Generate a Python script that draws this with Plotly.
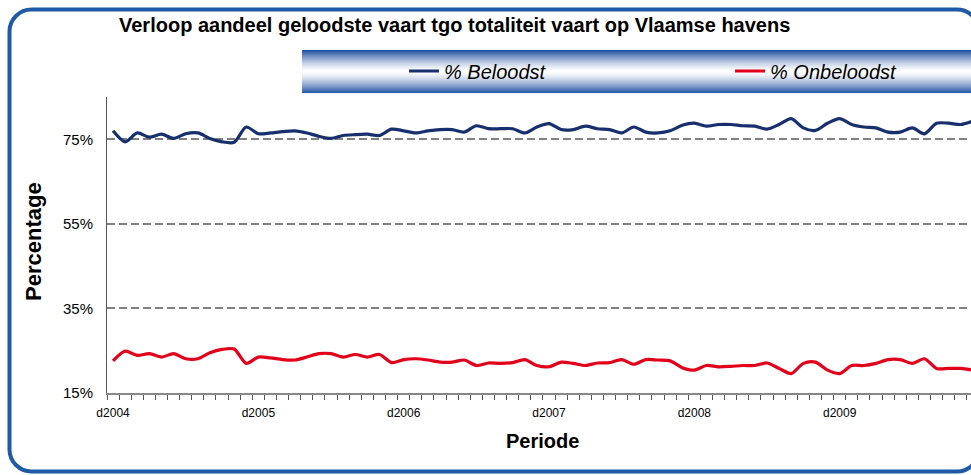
import plotly.graph_objects as go

# ---- data ----
years = [2004, 2005, 2006, 2007, 2008, 2009]
months = [f"{y}-{m:02d}" for y in years for m in range(1, 13)]
tick_labels = [f"d{mo[:4]}" if mo.endswith("-01") else "" for mo in months]

beloodst = [
    77.0, 74.4, 76.5, 75.5, 76.2, 75.2, 76.3, 76.5, 75.2, 74.4, 74.3, 77.9,
    76.3, 76.5, 76.8, 77.0, 76.5, 75.7, 75.2, 75.9, 76.1, 76.2, 75.9, 77.4,
    77.0, 76.5, 77.0, 77.3, 77.3, 76.7, 78.2, 77.5, 77.5, 77.5, 76.5, 77.9,
    78.7, 77.3, 77.3, 78.1, 77.5, 77.3, 76.5, 77.9, 76.7, 76.5, 77.0, 78.3,
    78.8, 78.1, 78.5, 78.5, 78.2, 78.1, 77.4, 78.5, 79.9, 77.7, 77.1, 78.8,
    79.9, 78.5, 77.9, 77.7, 76.7, 76.7, 77.7, 76.3, 78.8, 78.8, 78.5, 79.3,
]
onbeloodst = [
    22.6, 24.9, 23.9, 24.3, 23.5, 24.3, 23.1, 23.1, 24.5, 25.3, 25.4, 22.0,
    23.5, 23.3, 22.9, 22.8, 23.5, 24.3, 24.3, 23.5, 24.1, 23.5, 24.1, 22.2,
    22.9, 23.1, 22.8, 22.3, 22.3, 22.8, 21.5, 22.1, 22.0, 22.2, 22.9, 21.5,
    21.2, 22.3, 22.0, 21.5, 22.1, 22.2, 22.9, 21.8, 22.9, 22.8, 22.6, 21.0,
    20.4, 21.5, 21.2, 21.3, 21.5, 21.5, 22.1, 20.8, 19.6, 22.0, 22.3, 20.4,
    19.6, 21.5, 21.5, 22.0, 22.9, 22.9, 22.0, 23.1, 20.8, 20.8, 20.8, 20.4,
]
y_ticks = [15, 35, 55, 75]
y_tick_text = [f"{v}%" for v in y_ticks]

# ---- geometry (pixels -> paper) ----
W, H = 971, 475
PL, PR, PT, PB = 107, 971, 97, 393  # visible plot box
ML, MR, MT, MB = PL, W - PR, PT, H - PB
PW, PH = W - ML - MR, H - MT - MB
MONTH_PX = 12.11  # width of one category; the chart runs past the right edge


def px(x):
    return (x - PL) / PW


def py(y):
    return (PB - y) / PH


FONT = "Liberation Sans, Arial, sans-serif"
BLUE = "#182f6e"
RED = "#e2001a"

fig = go.Figure()
fig.add_trace(go.Scatter(x=months, y=beloodst, mode="lines", name="% Beloodst",
                         legend="legend",
                         line=dict(color=BLUE, width=3.2, shape="spline", smoothing=0.8)))
fig.add_trace(go.Scatter(x=months, y=onbeloodst, mode="lines", name="% Onbeloodst",
                         legend="legend2",
                         line=dict(color=RED, width=3.2, shape="spline", smoothing=0.8)))

shapes = []
# gradient legend band
y0, y1 = 50, 93
n = y1 - y0
for k in range(n):
    t = (k + 0.5) / n
    f = abs(2 * t - 1) ** 1.4
    base = (28, 76, 158) if t < 0.5 else (38, 86, 168)
    c = tuple(int(255 * (1 - f) + b * f) for b in base)
    shapes.append(dict(type="rect", xref="paper", yref="paper",
                       x0=px(302), x1=px(990), y0=py(y0 + k + 1), y1=py(y0 + k),
                       fillcolor=f"rgb{c}", line=dict(width=0), layer="below"))

# rounded frame
r = 22
xl, xr, yt, yb = 9.5, 979, 9.5, 471.5
k = 0.55 * r
path = (
    f"M {px(xl + r)},{py(yt)} L {px(xr - r)},{py(yt)} "
    f"C {px(xr - r + k)},{py(yt)} {px(xr)},{py(yt + r - k)} {px(xr)},{py(yt + r)} "
    f"L {px(xr)},{py(yb - r)} "
    f"C {px(xr)},{py(yb - r + k)} {px(xr - r + k)},{py(yb)} {px(xr - r)},{py(yb)} "
    f"L {px(xl + r)},{py(yb)} "
    f"C {px(xl + r - k)},{py(yb)} {px(xl)},{py(yb - r + k)} {px(xl)},{py(yb - r)} "
    f"L {px(xl)},{py(yt + r)} "
    f"C {px(xl)},{py(yt + r - k)} {px(xl + r - k)},{py(yt)} {px(xl + r)},{py(yt)} Z"
)
shapes.append(dict(type="path", xref="paper", yref="paper", path=path,
                   line=dict(color="#1f5aa6", width=4), layer="above"))

annotations = [
    dict(text="<b>Verloop aandeel geloodste vaart tgo totaliteit vaart op Vlaamse havens</b>",
         xref="paper", yref="paper", x=px(117), y=py(25), xanchor="left", yanchor="middle",
         showarrow=False, font=dict(family=FONT, size=20, color="#000000")),
    dict(text="<b>Percentage</b>", xref="paper", yref="paper", x=px(33), y=py(242),
         xanchor="center", yanchor="middle", textangle=-90, showarrow=False,
         font=dict(family=FONT, size=22, color="#000000")),
    dict(text="<b>Periode</b>", xref="paper", yref="paper", x=px(542), y=py(441),
         xanchor="center", yanchor="middle", showarrow=False,
         font=dict(family=FONT, size=20, color="#000000")),
]

legend_common = dict(orientation="h", xanchor="left", yanchor="middle",
                     bgcolor="rgba(0,0,0,0)", itemclick=False, itemdoubleclick=False,
                     font=dict(family=FONT, size=20, style="italic", color="#000000"))

fig.update_layout(
    width=W, height=H,
    margin=dict(l=ML, r=MR, t=MT, b=MB, pad=0, autoexpand=False),
    paper_bgcolor="white", plot_bgcolor="white",
    font=dict(family=FONT, color="#000000"),
    showlegend=True,
    legend=dict(x=px(446 - 42), y=py(71), **legend_common),
    legend2=dict(x=px(772 - 42), y=py(71), **legend_common),
    shapes=shapes,
    annotations=annotations,
)
fig.update_xaxes(
    type="category", categoryorder="array", categoryarray=months,
    range=[-0.5, -0.5 + PW / MONTH_PX],
    tickmode="array", tickvals=months, ticktext=tick_labels,
    tickson="boundaries", ticks="outside", ticklen=5, tickcolor="#555555", tickwidth=1,
    ticklabelstandoff=8,
    showline=True, linecolor="#888888", linewidth=1.5,
    showgrid=False, zeroline=False,
    tickfont=dict(family=FONT, size=12, color="#000000"), tickangle=0,
)
fig.update_yaxes(
    range=[15, 85], tickmode="array", tickvals=y_ticks, ticktext=y_tick_text,
    ticks="outside", ticklen=10, tickcolor="rgba(0,0,0,0)",
    showline=True, linecolor="#555555", linewidth=1,
    showgrid=True, gridcolor="#808080", gridwidth=1.5, griddash="8px,4px",
    zeroline=False,
    tickfont=dict(family=FONT, size=15, color="#000000"),
)

fig.write_html(
    "out.html",
    config={"displayModeBar": False},
    post_script="document.body.style.margin='0';"
                "document.documentElement.style.overflow='hidden';",
)
